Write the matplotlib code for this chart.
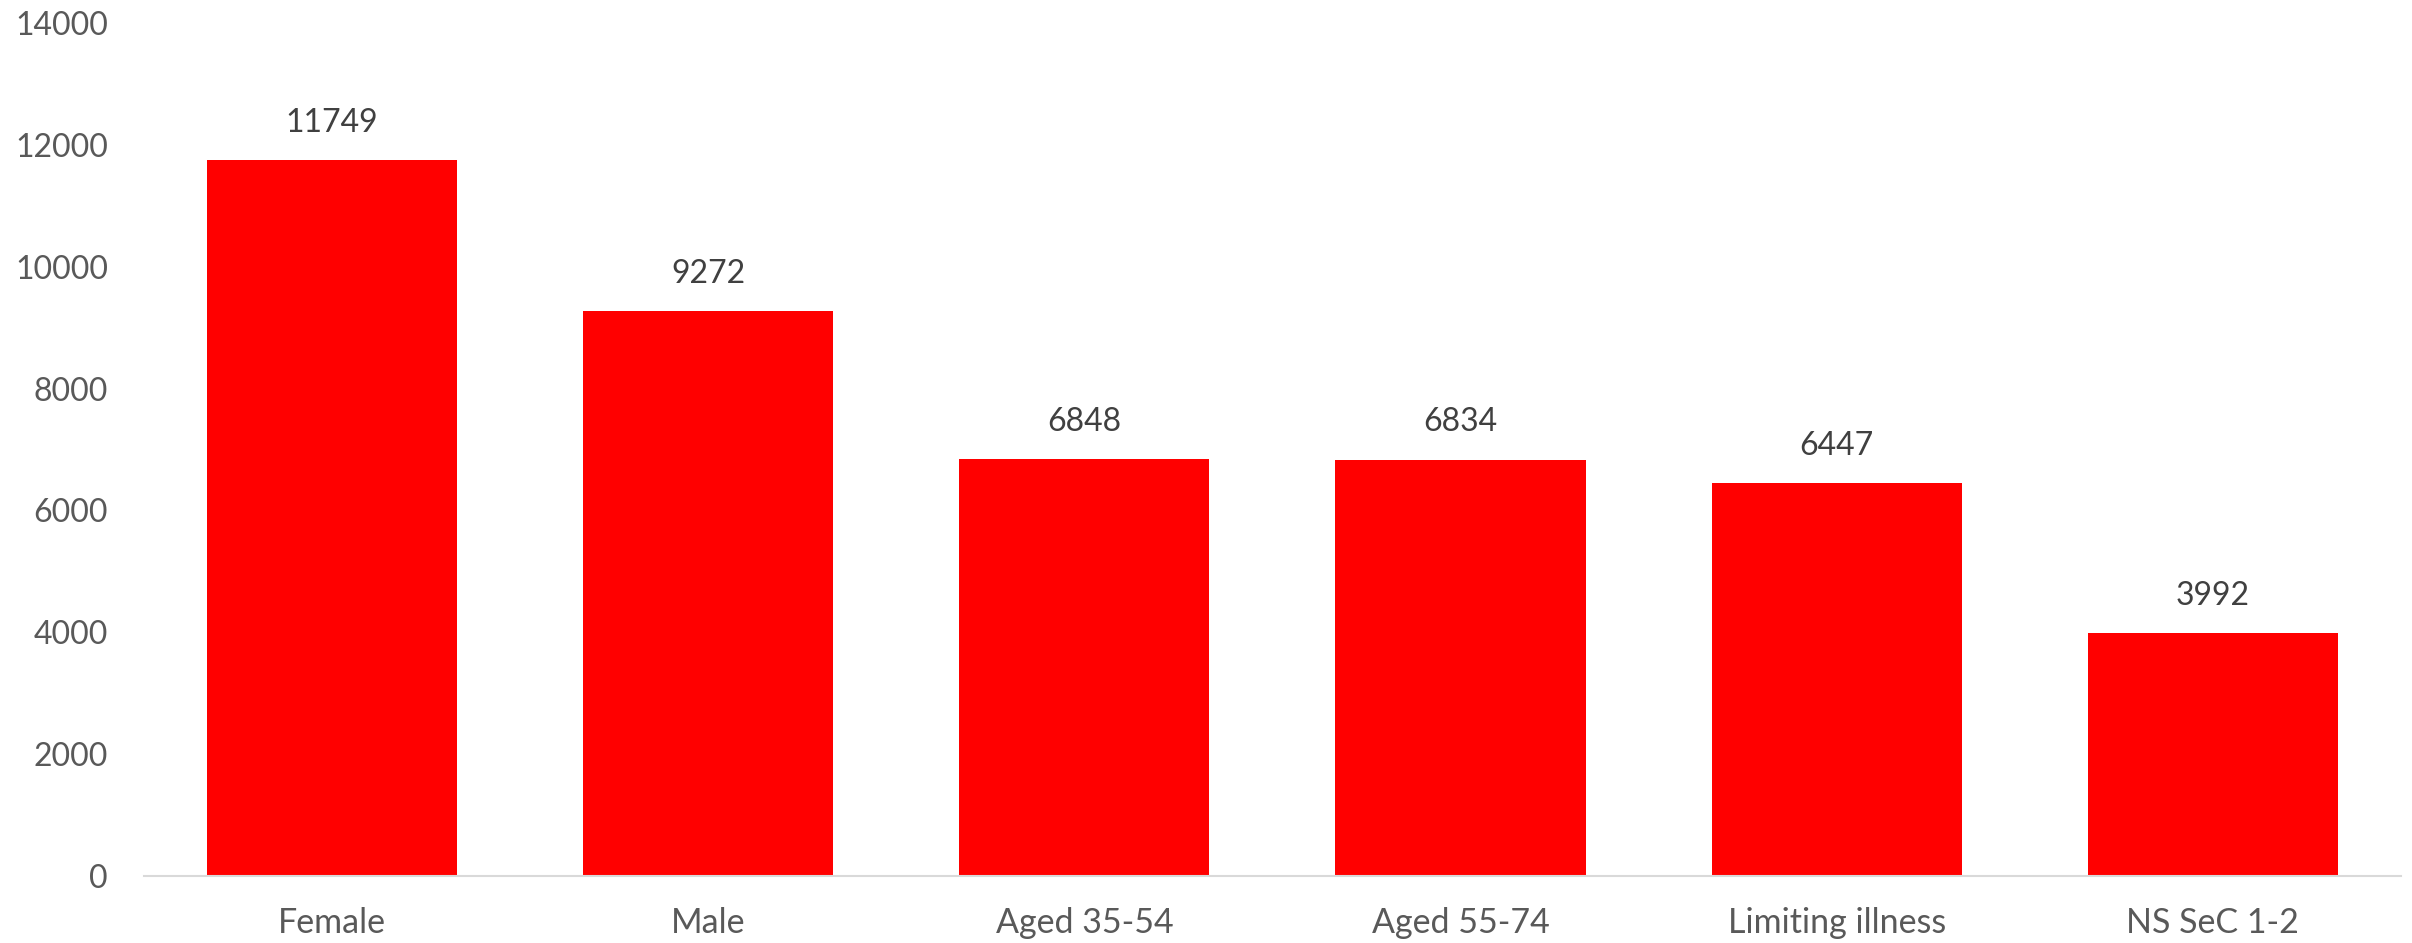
import matplotlib
matplotlib.use("Agg")
import matplotlib.pyplot as plt

categories = ["Female", "Male", "Aged 35-54", "Aged 55-74", "Limiting illness", "NS SeC 1-2"]
values = [11749, 9272, 6848, 6834, 6447, 3992]
yticks = [0, 2000, 4000, 6000, 8000, 10000, 12000, 14000]

plt.rcParams['font.family'] = ['Lato', 'DejaVu Sans']

fig = plt.figure(figsize=(24.12, 9.43), dpi=100)
ax = fig.add_axes([0.0597, 0.0711, 0.9357, 0.9045])

x = list(range(len(categories)))
bars = ax.bar(x, values, width=0.665, color="#FF0000", zorder=2)
ax.set_xlim(-0.5, len(categories) - 0.5)
ax.set_ylim(0, 14000)
ax.set_yticks(yticks)
ax.set_yticklabels([str(t) for t in yticks])
ax.set_xticks(x)
ax.set_xticklabels(categories)

for s in ["top", "right", "left"]:
    ax.spines[s].set_visible(False)
ax.spines["bottom"].set_color("#D9D9D9")
ax.spines["bottom"].set_linewidth(1.5)

ax.tick_params(axis="y", length=0, pad=26, labelsize=23, labelcolor="#595959")
ax.tick_params(axis="x", length=0, pad=22, labelsize=24.5, labelcolor="#595959")

for xi, v in zip(x, values):
    ax.annotate(str(v), (xi, v), xytext=(0, 16), textcoords="offset points",
                ha="center", va="bottom", fontsize=23, color="#404040")

fig.savefig("out.png", dpi=100)
